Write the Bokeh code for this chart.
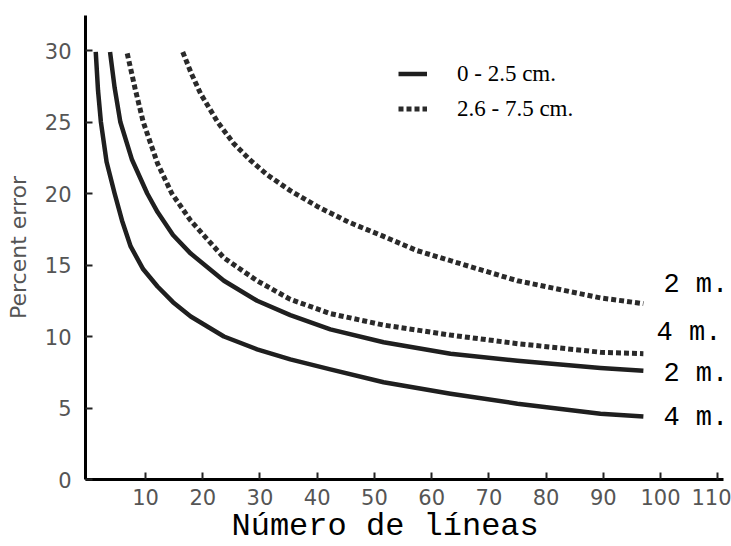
from bokeh.plotting import figure
from bokeh.models import Range1d, FixedTicker, Label, Legend, LegendItem, Title
from bokeh.embed import file_html
from bokeh.resources import INLINE

# ---- data ----
# 0 - 2.5 cm., 4 m. (lowest solid curve)
low_x = [1.3, 1.7, 2.2, 3.2, 4.6, 5.9, 7.4, 9.6, 12.1, 14.8, 17.9, 23.7, 29.5, 35.3, 42.3, 51.6, 63.3, 75.0, 89.5, 97.0]
low_y = [29.9, 27.2, 25.0, 22.2, 20.0, 18.1, 16.3, 14.7, 13.5, 12.4, 11.4, 10.0, 9.1, 8.4, 7.7, 6.8, 6.0, 5.3, 4.6, 4.4]
# 0 - 2.5 cm., 2 m. (upper solid curve)
mid_x = [3.8, 4.6, 5.6, 7.6, 10.3, 12.1, 14.8, 17.9, 23.7, 29.5, 35.3, 42.3, 51.6, 63.3, 75.0, 89.5, 97.0]
mid_y = [29.9, 27.4, 25.0, 22.4, 20.0, 18.7, 17.1, 15.8, 13.9, 12.5, 11.5, 10.5, 9.6, 8.8, 8.3, 7.8, 7.6]
# 2.6 - 7.5 cm., 4 m. (lower dotted curve)
dot4_x = [6.8, 8.2, 9.6, 12.1, 14.6, 17.9, 23.7, 29.5, 35.3, 42.3, 51.6, 63.3, 75.0, 89.5, 97.0]
dot4_y = [29.8, 27.3, 25.0, 22.1, 20.0, 18.1, 15.5, 13.9, 12.6, 11.6, 10.8, 10.1, 9.5, 8.9, 8.8]
# 2.6 - 7.5 cm., 2 m. (upper dotted curve)
dot2_x = [16.5, 18.0, 19.6, 22.6, 25.4, 28.4, 31.3, 35.3, 40.0, 45.5, 51.6, 57.5, 63.3, 75.0, 89.5, 97.0]
dot2_y = [29.9, 28.4, 27.0, 25.0, 23.5, 22.3, 21.3, 20.2, 19.1, 18.0, 17.0, 16.0, 15.3, 13.9, 12.7, 12.3]

x_ticks = [10, 20, 30, 40, 50, 60, 70, 80, 90, 100, 110]
y_ticks = [0, 5, 10, 15, 20, 25, 30]
legend_labels = ["0 - 2.5 cm.", "2.6 - 7.5 cm."]
end_labels = ["2 m.", "4 m.", "2 m.", "4 m."]
end_label_x = [100.5, 99.3, 100.5, 100.5]
end_label_y = [13.57, 10.28, 7.41, 4.27]
x_title = "Número de líneas"
y_title = "Percent error"

INK = "#1f1f1f"
GREY = "#555555"

p = figure(width=731, height=546, output_backend="svg", toolbar_location=None,
           x_range=Range1d(-0.49, 111.0), y_range=Range1d(0, 32.45),
           min_border_left=85, min_border_right=8, min_border_top=15, min_border_bottom=67)
p.xgrid.visible = False
p.ygrid.visible = False
p.outline_line_color = None
p.background_fill_color = "white"

r_low = p.line(low_x, low_y, line_width=4.5, line_color=INK, line_join="round")
r_mid = p.line(mid_x, mid_y, line_width=4.5, line_color=INK, line_join="round")
r_d4 = p.line(dot4_x, dot4_y, line_width=5, line_color="#2a2a2a", line_dash="5 3")
r_d2 = p.line(dot2_x, dot2_y, line_width=5, line_color="#2a2a2a", line_dash="5 3")

for ax in (p.xaxis[0], p.yaxis[0]):
    ax.axis_line_width = 3
    ax.axis_line_color = "black"
    ax.major_tick_in = 7
    ax.major_tick_out = 0
    ax.minor_tick_in = 0
    ax.minor_tick_out = 0
    ax.major_tick_line_width = 2
    ax.major_tick_line_color = "#222222"
    ax.major_label_text_font = "DejaVu Sans"
    ax.major_label_text_font_size = "21px"
    ax.major_label_text_color = GREY

p.xaxis.ticker = FixedTicker(ticks=x_ticks)
p.yaxis.ticker = FixedTicker(ticks=y_ticks)
p.xaxis.major_label_standoff = 9
p.yaxis.major_label_standoff = 14

p.yaxis.axis_label = y_title
p.yaxis.axis_label_text_font = "DejaVu Sans"
p.yaxis.axis_label_text_font_size = "22px"
p.yaxis.axis_label_text_font_style = "normal"
p.yaxis.axis_label_text_color = GREY
p.yaxis.axis_label_standoff = 11

# x axis title, placed below the axis, shifted as in the original
p.add_layout(Title(text=x_title, align="left", offset=146, standoff=-4,
                   text_font="Liberation Mono", text_font_size="32px",
                   text_font_style="normal", text_color="black"), "below")

# curve end labels
for t, lx, ly in zip(end_labels, end_label_x, end_label_y):
    p.add_layout(Label(x=lx, y=ly, text=t, text_font="Liberation Mono",
                       text_font_size="27px", text_color="black",
                       text_align="left", text_baseline="middle"))

legend = Legend(items=[LegendItem(label=legend_labels[0], renderers=[r_low]),
                       LegendItem(label=legend_labels[1], renderers=[r_d2])],
                location=(313, 357), padding=0, margin=0, spacing=8,
                glyph_width=29, glyph_height=27, label_height=27, label_standoff=30,
                border_line_alpha=0, background_fill_alpha=0,
                label_text_font="Liberation Serif", label_text_font_size="23px",
                label_text_color="black")
p.add_layout(legend)

open("out.html", "w").write(file_html(p, INLINE))
